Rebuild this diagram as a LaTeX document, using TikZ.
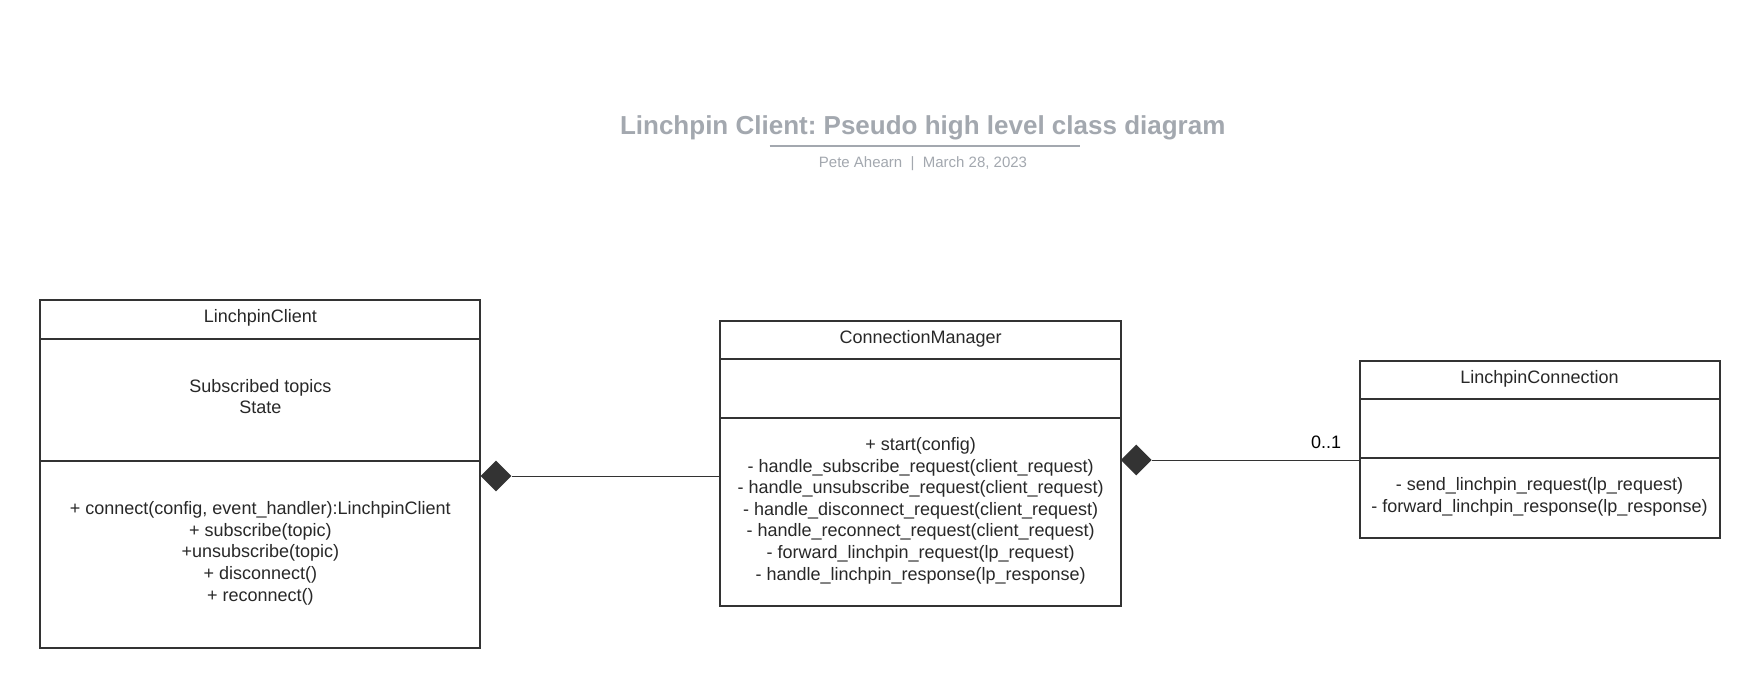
\documentclass[tikz,border=0pt]{standalone}
\usepackage{fontspec}
\setmainfont{Liberation Sans}
\frenchspacing
\usetikzlibrary{shapes.geometric}
\definecolor{boxc}{HTML}{333333}
\definecolor{txtc}{HTML}{282828}
\definecolor{grayc}{HTML}{A3A8AF}
\tikzset{
  comp/.style={draw=boxc, line width=2pt, fill=white, inner sep=0pt, anchor=north west,
    align=center, text=txtc, font=\fontsize{18}{21.6}\selectfont},
  txt/.style={inner sep=0pt, align=center, text=txtc, font=\fontsize{18}{21.6}\selectfont},
  dia/.style={diamond, draw=none, fill=boxc, inner sep=0pt, minimum width=31pt, minimum height=31pt, anchor=west},
  conn/.style={draw=boxc, line width=0.9pt},
  lbl/.style={inner sep=0pt, text=black, font=\fontsize{18}{21.6}\selectfont},
}
\begin{document}
\begin{tikzpicture}[x=1pt,y=-1pt]
\useasboundingbox (0,0) rectangle (1759,687);
\fill[white] (0,0) rectangle (1759,687);

% Title block
\node[inner sep=0pt, text=grayc, font=\bfseries\fontsize{26}{30}\selectfont] (title) at (922.7,128)
  {Linchpin Client: Pseudo high level class diagram};
\draw[grayc, line width=2pt] (769.5,146.5) -- (1079.5,146.5);
\node[inner sep=0pt, text=grayc, font=\fontsize{15}{18}\selectfont] (subtitle) at (923,164)
  {Pete Ahearn~~|~~March 28, 2023};

% LinchpinClient
\node[comp, minimum width=440pt, minimum height=38.4pt] (lch) at (39.3,299.3) {};
\node[txt] at ([yshift=1.2pt]lch.center) {LinchpinClient};
\node[comp, minimum width=440pt, minimum height=122.3pt] (lca) at (39.3,337.7) {};
\node[txt] at ([yshift=3.4pt]lca.center) {Subscribed topics\\State};
\node[comp, minimum width=440pt, minimum height=186.7pt] (lco) at (39.3,460) {};
\node[txt] at ([yshift=1.2pt]lco.center) {+ connect(config, event\_handler):LinchpinClient\\+ subscribe(topic)\\+unsubscribe(topic)\\+ disconnect()\\+ reconnect()};

% ConnectionManager
\node[comp, minimum width=400.7pt, minimum height=37.7pt] (cmh) at (719.3,320) {};
\node[txt] at ([yshift=1.2pt]cmh.center) {ConnectionManager};
\node[comp, minimum width=400.7pt, minimum height=59.3pt] (cma) at (719.3,357.7) {};
\node[comp, minimum width=400.7pt, minimum height=187.7pt] (cmo) at (719.3,417) {};
\node[txt] at ([yshift=1.2pt]cmo.center) {+ start(config)\\- handle\_subscribe\_request(client\_request)\\- handle\_unsubscribe\_request(client\_request)\\- handle\_disconnect\_request(client\_request)\\- handle\_reconnect\_request(client\_request)\\- forward\_linchpin\_request(lp\_request)\\- handle\_linchpin\_response(lp\_response)};

% LinchpinConnection
\node[comp, minimum width=360pt, minimum height=38.3pt] (lnh) at (1358.5,360) {};
\node[txt] at ([yshift=1.2pt]lnh.center) {LinchpinConnection};
\node[comp, minimum width=360pt, minimum height=58.4pt] (lna) at (1358.5,398.3) {};
\node[comp, minimum width=360pt, minimum height=80.6pt] (lno) at (1358.5,456.7) {};
\node[txt] at ([yshift=1.2pt]lno.center) {- send\_linchpin\_request(lp\_request)\\- forward\_linchpin\_response(lp\_response)};

% Compositions
\node[dia] (d1) at (480.3,476) {};
\draw[conn] (d1.east) -- (d1.east -| cmo.west);
\node[dia] (d2) at (1120.5,460) {};
\draw[conn] (d2.east) -- (d2.east -| lno.west);
\node[lbl] (m2) at (1326,442.5) {0..1};
\end{tikzpicture}
\end{document}
